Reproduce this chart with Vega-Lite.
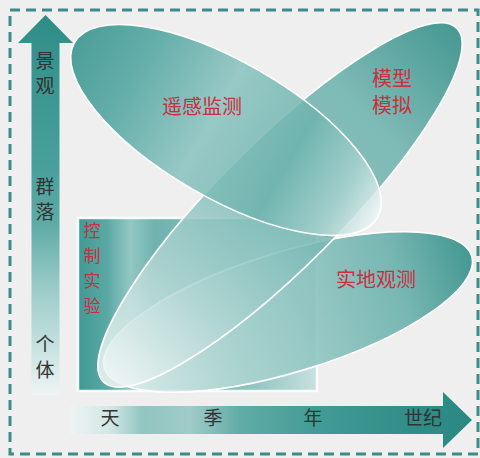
{
  "$schema": "https://vega.github.io/schema/vega-lite/v6.json",
  "width": 480,
  "height": 458,
  "autosize": {"type": "fit", "contains": "padding"},
  "padding": 0,
  "background": "#efefef",
  "config": {"view": {"stroke": null}},
  "datasets": {
    "frame": [{"x": 10, "x2": 478, "y": 10, "y2": 454}],
    "axes": [
      {"axis": "组织层次", "x": 45.5, "y": 205},
      {"axis": "时间尺度", "x": 271, "y": 420}
    ],
    "control": [{"method": "控制实验", "x": 78, "x2": 317, "y": 218, "y2": 391}],
    "methods": [
      {"method": "遥感监测", "x": 226, "y": 130},
      {"method": "模型模拟", "x": 280, "y": 205},
      {"method": "实地观测", "x": 288, "y": 312}
    ],
    "labels": [
      {"kind": "method", "text": "遥感监测", "x": 202, "y": 108},
      {"kind": "method", "text": "模型", "x": 392, "y": 80},
      {"kind": "method", "text": "模拟", "x": 392, "y": 107},
      {"kind": "method", "text": "实地观测", "x": 376, "y": 281},
      {"kind": "vertical", "text": "控", "x": 92, "y": 232},
      {"kind": "vertical", "text": "制", "x": 92, "y": 257},
      {"kind": "vertical", "text": "实", "x": 92, "y": 282},
      {"kind": "vertical", "text": "验", "x": 92, "y": 307},
      {"kind": "scale", "text": "景", "x": 45, "y": 62},
      {"kind": "scale", "text": "观", "x": 45, "y": 87},
      {"kind": "scale", "text": "群", "x": 45, "y": 188},
      {"kind": "scale", "text": "落", "x": 45, "y": 213},
      {"kind": "scale", "text": "个", "x": 45, "y": 345},
      {"kind": "scale", "text": "体", "x": 45, "y": 371},
      {"kind": "scale", "text": "天", "x": 110, "y": 419},
      {"kind": "scale", "text": "季", "x": 213, "y": 419},
      {"kind": "scale", "text": "年", "x": 313, "y": 419},
      {"kind": "scale", "text": "世纪", "x": 423, "y": 419}
    ]
  },
  "layer": [
    {
      "data": {"name": "frame"},
      "mark": {"type": "rect", "filled": false, "stroke": "#3f8c87", "strokeWidth": 3, "strokeDash": [10, 6]},
      "encoding": {
        "x": {"field": "x", "type": "quantitative", "scale": {"domain": [0, 480], "nice": false, "zero": false}, "axis": null},
        "x2": {"field": "x2"},
        "y": {"field": "y", "type": "quantitative", "scale": {"domain": [0, 458], "nice": false, "zero": false, "reverse": true}, "axis": null},
        "y2": {"field": "y2"}
      }
    },
    {
      "data": {"name": "axes"},
      "transform": [{"filter": "datum.axis === '组织层次'"}],
      "mark": {
        "type": "point", "filled": true, "opacity": 1, "size": 144400, "strokeWidth": 0,
        "shape": "M0,-1 L0.1447,-0.8526 L0.0737,-0.8526 L0.0737,1 L-0.0737,1 L-0.0737,-0.8526 L-0.1447,-0.8526 Z",
        "fill": {"gradient": "linear", "x1": 0, "y1": 0, "x2": 0, "y2": 1, "stops": [
          {"offset": 0, "color": "#2e8c86"},
          {"offset": 0.08, "color": "#34918b"},
          {"offset": 0.4, "color": "#48a09b"},
          {"offset": 0.55, "color": "#5eaba6"},
          {"offset": 0.7, "color": "#95c8c5"},
          {"offset": 0.85, "color": "#bfdedc"},
          {"offset": 1, "color": "#eef5f4"}
        ]}
      },
      "encoding": {
        "x": {"field": "x", "type": "quantitative"},
        "y": {"field": "y", "type": "quantitative"}
      }
    },
    {
      "data": {"name": "axes"},
      "transform": [{"filter": "datum.axis === '时间尺度'"}],
      "mark": {
        "type": "point", "filled": true, "opacity": 1, "size": 161604, "strokeWidth": 0,
        "shape": "M-1,-0.0697 L0.8557,-0.0697 L0.8557,-0.1393 L1,0 L0.8557,0.1393 L0.8557,0.0697 L-1,0.0697 Z",
        "fill": {"gradient": "linear", "x1": 0, "y1": 0, "x2": 1, "y2": 0, "stops": [
          {"offset": 0, "color": "#eef4f3"},
          {"offset": 0.1, "color": "#d2e7e5"},
          {"offset": 0.18, "color": "#92c5c1"},
          {"offset": 0.3, "color": "#9fcbc8"},
          {"offset": 0.42, "color": "#62aca7"},
          {"offset": 0.6, "color": "#449c97"},
          {"offset": 0.85, "color": "#318d87"},
          {"offset": 1, "color": "#2a8882"}
        ]}
      },
      "encoding": {
        "x": {"field": "x", "type": "quantitative"},
        "y": {"field": "y", "type": "quantitative"}
      }
    },
    {
      "data": {"name": "control"},
      "mark": {
        "type": "rect", "stroke": "#ffffff", "strokeWidth": 2.5, "strokeOpacity": 0.9,
        "fill": {"gradient": "linear", "x1": 0, "y1": 0, "x2": 1, "y2": 0, "stops": [
          {"offset": 0, "color": "#3f9a95"},
          {"offset": 0.12, "color": "#5aa8a3"},
          {"offset": 0.22, "color": "#93c7c4"},
          {"offset": 0.32, "color": "#6fb3ae"},
          {"offset": 0.7, "color": "#8ac2be"},
          {"offset": 1, "color": "#c8e1df"}
        ]}
      },
      "encoding": {
        "x": {"field": "x", "type": "quantitative"},
        "x2": {"field": "x2"},
        "y": {"field": "y", "type": "quantitative"},
        "y2": {"field": "y2"}
      }
    },
    {
      "data": {"name": "methods"},
      "transform": [{"filter": "datum.method === '实地观测'"}],
      "mark": {
        "type": "point", "filled": true, "opacity": 1, "fillOpacity": 0.88, "size": 147456, "angle": 343,
        "stroke": "#ffffff", "strokeWidth": 1.6,
        "shape": "M-1,0 C-1,-0.1726 -0.5523,-0.3125 0,-0.3125 C0.5523,-0.3125 1,-0.1726 1,0 C1,0.1726 0.5523,0.3125 0,0.3125 C-0.5523,0.3125 -1,0.1726 -1,0 Z",
        "fill": {"gradient": "linear", "x1": 0, "y1": 0, "x2": 1, "y2": 0, "stops": [
          {"offset": 0, "color": "#eef6f5"},
          {"offset": 0.3, "color": "#b5d8d5"},
          {"offset": 0.55, "color": "#8cc3bf"},
          {"offset": 0.8, "color": "#66afaa"},
          {"offset": 1, "color": "#2d8b85"}
        ]}
      },
      "encoding": {
        "x": {"field": "x", "type": "quantitative"},
        "y": {"field": "y", "type": "quantitative"}
      }
    },
    {
      "data": {"name": "methods"},
      "transform": [{"filter": "datum.method === '模型模拟'"}],
      "mark": {
        "type": "point", "filled": true, "opacity": 1, "fillOpacity": 0.85, "size": 250000, "angle": 315,
        "stroke": "#ffffff", "strokeWidth": 1.6,
        "shape": "M-1,0 C-1,-0.137 -0.5523,-0.248 0,-0.248 C0.5523,-0.248 1,-0.137 1,0 C1,0.137 0.5523,0.248 0,0.248 C-0.5523,0.248 -1,0.137 -1,0 Z",
        "fill": {"gradient": "linear", "x1": 0, "y1": 0, "x2": 1, "y2": 0, "stops": [
          {"offset": 0, "color": "#f2f8f7"},
          {"offset": 0.25, "color": "#b0d5d2"},
          {"offset": 0.5, "color": "#78b8b4"},
          {"offset": 0.75, "color": "#6ab1ac"},
          {"offset": 1, "color": "#2a8983"}
        ]}
      },
      "encoding": {
        "x": {"field": "x", "type": "quantitative"},
        "y": {"field": "y", "type": "quantitative"}
      }
    },
    {
      "data": {"name": "methods"},
      "transform": [{"filter": "datum.method === '遥感监测'"}],
      "mark": {
        "type": "point", "filled": true, "opacity": 1, "fillOpacity": 0.85, "size": 122500, "angle": 30,
        "stroke": "#ffffff", "strokeWidth": 1.6,
        "shape": "M-1,0 C-1,-0.2146 -0.5523,-0.3886 0,-0.3886 C0.5523,-0.3886 1,-0.2146 1,0 C1,0.2146 0.5523,0.3886 0,0.3886 C-0.5523,0.3886 -1,0.2146 -1,0 Z",
        "fill": {"gradient": "linear", "x1": 0, "y1": 0, "x2": 1, "y2": 0, "stops": [
          {"offset": 0, "color": "#2f908a"},
          {"offset": 0.2, "color": "#4da39e"},
          {"offset": 0.45, "color": "#88c2be"},
          {"offset": 0.7, "color": "#6db3ae"},
          {"offset": 0.88, "color": "#a8d2cf"},
          {"offset": 1, "color": "#eef6f5"}
        ]}
      },
      "encoding": {
        "x": {"field": "x", "type": "quantitative"},
        "y": {"field": "y", "type": "quantitative"}
      }
    },
    {
      "data": {"name": "labels"},
      "transform": [{"filter": "datum.kind === 'method'"}],
      "mark": {"type": "text", "font": "Noto Sans CJK SC", "fontSize": 20, "color": "#c8303f", "align": "center", "baseline": "middle"},
      "encoding": {
        "x": {"field": "x", "type": "quantitative"},
        "y": {"field": "y", "type": "quantitative"},
        "text": {"field": "text"}
      }
    },
    {
      "data": {"name": "labels"},
      "transform": [{"filter": "datum.kind === 'vertical'"}],
      "mark": {"type": "text", "font": "Noto Sans CJK SC", "fontSize": 17, "color": "#c8303f", "align": "center", "baseline": "middle"},
      "encoding": {
        "x": {"field": "x", "type": "quantitative"},
        "y": {"field": "y", "type": "quantitative"},
        "text": {"field": "text"}
      }
    },
    {
      "data": {"name": "labels"},
      "transform": [{"filter": "datum.kind === 'scale'"}],
      "mark": {"type": "text", "font": "Noto Sans CJK SC", "fontSize": 19, "color": "#333333", "align": "center", "baseline": "middle"},
      "encoding": {
        "x": {"field": "x", "type": "quantitative"},
        "y": {"field": "y", "type": "quantitative"},
        "text": {"field": "text"}
      }
    }
  ]
}
